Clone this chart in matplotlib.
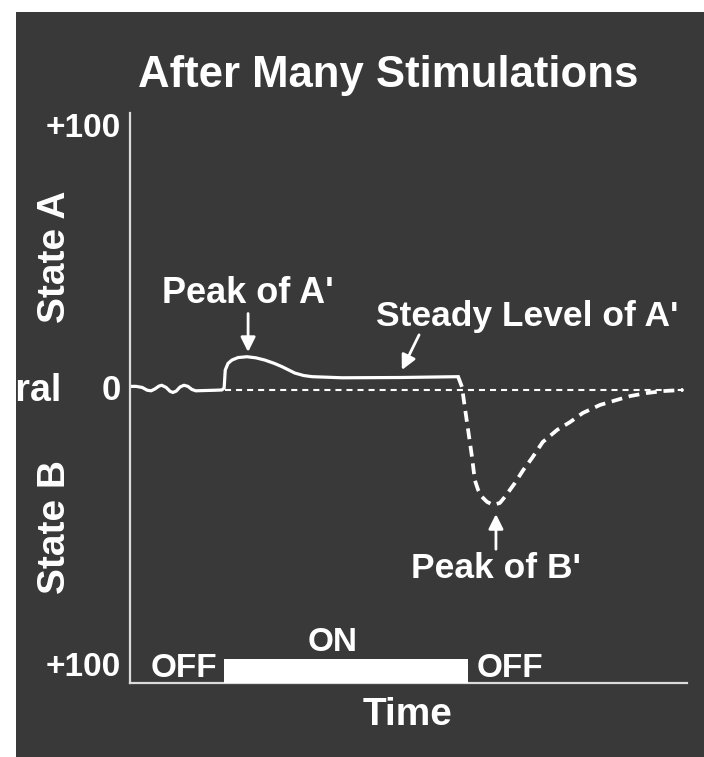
import matplotlib.pyplot as plt
from matplotlib.patches import Rectangle

plt.rcParams['font.family'] = ['Liberation Sans', 'DejaVu Sans']
plt.rcParams['font.weight'] = 'bold'

# time runs 0..100 across the axis, level runs from +100 (state A) to -100 (state B)
t_solid = [0, 1.1, 2.2, 3.1, 3.8, 4.5, 5.2, 5.7, 6.5, 7.2, 7.7, 8.3, 9.0, 9.7, 10.4,
           11.1, 11.8, 13.5, 15.3, 16.5,
           16.9, 17.1, 17.6, 18.3, 19.4, 21.0, 22.6, 24.2, 25.9, 27.3, 29.6, 31.2,
           32.7, 38.1, 48.5, 58.9]
v_solid = [1.3, 1.3, 0.9, -0.1, -0.3, 0.4, 1.4, 1.7, 0.9, -0.5, -0.9, -0.4, 1.1, 1.7, 1.3,
           0.2, -0.3, -0.2, -0.1, 0,
           0.7, 7.2, 9.6, 10.8, 11.7, 12.0, 11.6, 10.8, 9.6, 8.4, 6.1, 5.2,
           4.8, 4.4, 4.5, 4.8]

t_dash = [58.9, 59.6, 60.1, 60.7, 61.4, 61.9, 62.5, 63.2, 64.1, 65.2, 66.4, 67.3,
          69.1, 70.6, 72.2, 74.1, 76.7, 79.0, 81.3, 84.4, 87.4, 89.8, 92.8, 95.7, 99.3]
v_dash = [4.8, 1.1, -6.1, -14.4, -24.2, -32.5, -36.1, -38.6, -40.4, -41.5, -40.8, -38.6,
          -33.6, -28.9, -24.5, -18.8, -14.4, -11.6, -8.3, -5.4, -3.6, -2.2, -1.1, -0.4, 0]

baseline_start = 17.0
on_start, on_end = 16.9, 60.7
y_bottom = -105.8

fig = plt.figure(figsize=(7.04, 7.57), dpi=100)
fig.patch.set_facecolor('white')
panel = Rectangle((16 / 704, 0), 1, 745 / 757, transform=fig.transFigure,
                  facecolor='#393939', edgecolor='none', zorder=-10)
fig.patches.append(panel)

ax = fig.add_axes([130 / 704, 1 - 683 / 757, 557 / 704, 570 / 757])
ax.patch.set_alpha(0)
ax.set_xlim(0, 100)
ax.set_ylim(y_bottom, 100)
for s in ['top', 'right']:
    ax.spines[s].set_visible(False)
for s in ['left', 'bottom']:
    ax.spines[s].set_color('#dcdcdc')
    ax.spines[s].set_linewidth(1.6)
ax.set_xticks([])
ax.set_yticks([])

# neutral reference line
ax.plot([baseline_start, 100], [0, 0], color='white', lw=1.5, ls=(0, (2.9, 2.4)))
ax.plot(t_solid, v_solid, color='white', lw=2.3, solid_joinstyle='round')
ax.plot(t_dash, v_dash, color='white', lw=2.7, ls=(0, (2.9, 1.8)))

# stimulus bar
ax.bar(on_start, 8.7, width=on_end - on_start, bottom=y_bottom, align='edge',
       color='white', zorder=3, clip_on=False)

fs = 24
ax.text(36.4, -91.3, 'ON', color='white', fontsize=fs, ha='center', va='center')
ax.text(9.7, -100.5, 'OFF', color='white', fontsize=fs, ha='center', va='center')
ax.text(68.2, -100.5, 'OFF', color='white', fontsize=fs, ha='center', va='center')

arrow = dict(arrowstyle='-|>', color='white', lw=2, mutation_scale=22, shrinkA=0, shrinkB=0)
ax.annotate("Peak of A'", xy=(21.2, 13.7), xytext=(21.2, 28.6), color='white', fontsize=26,
            ha='center', va='bottom', arrowprops=arrow)
ax.annotate('', xy=(48.8, 7.2), xytext=(51.9, 19.9), arrowprops=arrow)
ax.text(71.3, 26.5, "Steady Level of A'", color='white', fontsize=25.5, ha='center', va='center')
ax.annotate("Peak of B'", xy=(65.7, -44.8), xytext=(65.7, -58.5), color='white', fontsize=25.5,
            ha='center', va='top', arrowprops=arrow)

# axis labels
ax.text(-1.6, 100, '+100', color='white', fontsize=24, ha='right', va='top')
ax.text(-1.6, y_bottom, '+100', color='white', fontsize=24, ha='right', va='bottom')
ax.text(-1.6, -0.3, '0', color='white', fontsize=25, ha='right', va='center')
neutral = fig.text(62 / 704, 1 - 391 / 757, 'Neutral', color='white', fontsize=27,
                   ha='right', va='center')
neutral.set_clip_path(Rectangle((17 / 704, 0), 1, 1, transform=fig.transFigure))
fig.text(55 / 704, 1 - 257 / 757, 'State A', color='white', fontsize=28, rotation=90,
         ha='center', va='center')
fig.text(55 / 704, 1 - 527 / 757, 'State B', color='white', fontsize=28, rotation=90,
         ha='center', va='center')
fig.text(408 / 704, 1 - 715 / 757, 'Time', color='white', fontsize=28, ha='center', va='center')
fig.text(388 / 704, 1 - 76 / 757, 'After Many Stimulations', color='white', fontsize=31.5,
         ha='center', va='center')

fig.savefig('out.png', dpi=100)
